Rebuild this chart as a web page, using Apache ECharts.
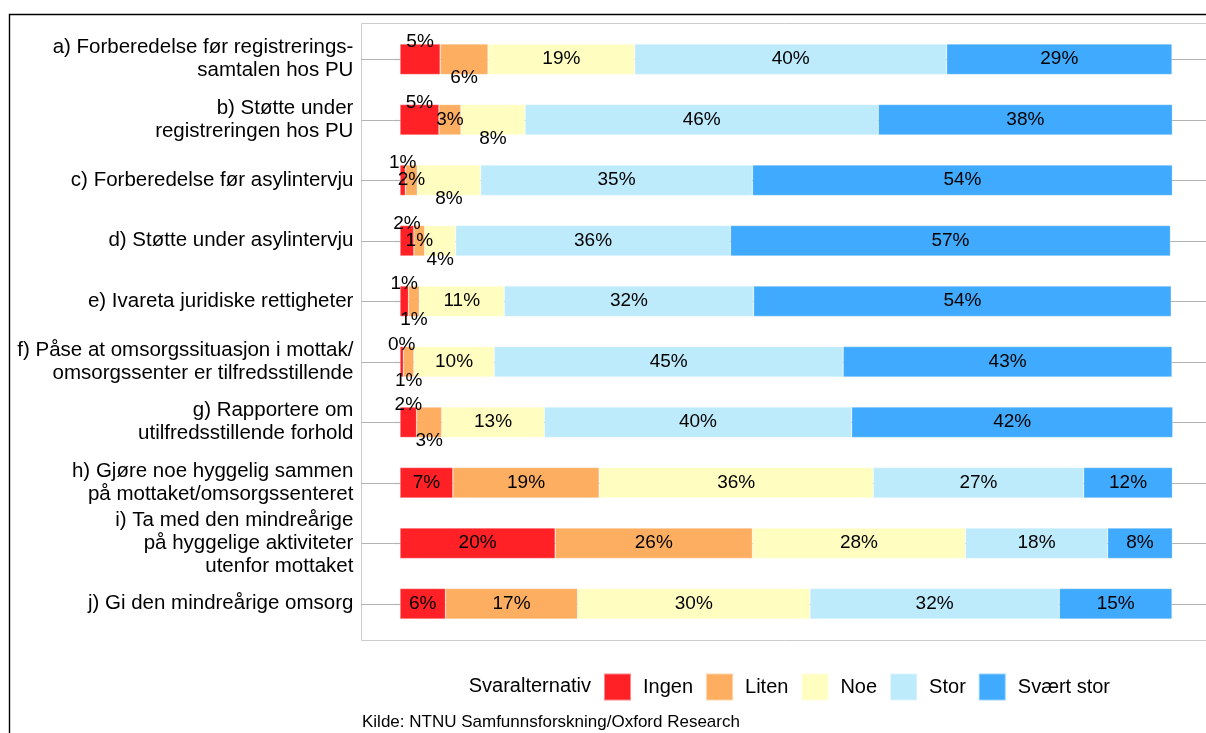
<!DOCTYPE html>
<html>
<head>
<meta charset="utf-8">
<script src="https://cdn.jsdelivr.net/npm/echarts@6/dist/echarts.min.js"></script>
<style>
  html, body { margin: 0; padding: 0; background: #fff; }
  #chart { width: 1206px; height: 733px; }
</style>
</head>
<body>
<div id="chart"></div>
<script>
// ---- data ----
const categories = [
  'a) Forberedelse før registrerings-\nsamtalen hos PU',
  'b) Støtte under\nregistreringen hos PU',
  'c) Forberedelse før asylintervju',
  'd) Støtte under asylintervju',
  'e) Ivareta juridiske rettigheter',
  'f) Påse at omsorgssituasjon i mottak/\nomsorgssenter er tilfredsstillende',
  'g) Rapportere om\nutilfredsstillende forhold',
  'h) Gjøre noe hyggelig sammen\npå mottaket/omsorgssenteret',
  'i) Ta med den mindreårige\npå hyggelige aktiviteter\nutenfor mottaket',
  'j) Gi den mindreårige omsorg'
];
const seriesNames = ['Ingen', 'Liten', 'Noe', 'Stor', 'Svært stor'];
const ingen     = [5.2, 5.05, 0.7, 1.8, 1.1, 0.45, 2.15, 6.85, 20.1, 5.9];
const liten     = [6.2, 2.85, 1.55, 1.4, 1.4, 1.35, 3.25, 18.95, 25.55, 17.1];
const noe       = [19.0, 8.3, 8.2, 4.0, 11.0, 10.4, 13.3, 35.5, 27.6, 30.1];
const stor      = [40.4, 45.75, 35.2, 35.6, 32.3, 45.2, 39.8, 27.25, 18.4, 32.3];
const svaertStor = [29.2, 38.1, 54.4, 57.0, 54.1, 42.6, 41.6, 11.5, 8.4, 14.6];
const legendTitle = 'Svaralternativ';
const sourceText = 'Kilde: NTNU Samfunnsforskning/Oxford Research';

// ---- layout / style ----
const colors = ['#FF2126', '#FDAE61', '#FFFDC0', '#BDEBFC', '#40ABFE'];
const FONT = "'Liberation Sans', Arial, sans-serif";
// small labels nudged above / below the bar: [categoryIndex][seriesIndex]
const labelNudge = {
  0: {0: 'up', 1: 'down'},
  1: {0: 'up', 2: 'down'},
  2: {0: 'up', 2: 'down'},
  3: {0: 'up', 2: 'down'},
  4: {0: 'up', 1: 'down'},
  5: {0: 'up', 1: 'down'},
  6: {0: 'up', 1: 'down'}
};
const nudgePx = {up: -17, down: 19};

const allValues = [ingen, liten, noe, stor, svaertStor];

const series = seriesNames.map((name, si) => ({
  name: name,
  type: 'bar',
  stack: 'total',
  barWidth: 30.5,
  clip: false,
  itemStyle: { color: colors[si], borderColor: 'rgba(255,255,255,0.45)', borderWidth: 0.6 },
  label: {
    show: true,
    position: 'inside',
    color: '#000',
    fontFamily: FONT,
    fontSize: 19,
    formatter: p => Math.round(p.value) + '%'
  },
  data: allValues[si].map((v, ci) => {
    const n = labelNudge[ci] && labelNudge[ci][si];
    if (n) return { value: v, label: { offset: [0, nudgePx[n]] } };
    return v;
  })
}));

const chart = echarts.init(document.getElementById('chart'), null, { renderer: 'canvas' });
chart.setOption({
  animation: false,
  backgroundColor: '#fff',
  textStyle: { fontFamily: FONT },
  grid: { left: 361.4, right: 0, top: 59.25, height: 544.5, containLabel: false },
  xAxis: {
    type: 'value', min: -5, max: 104.4,
    axisLabel: { show: false }, axisLine: { show: false },
    axisTick: { show: false }, splitLine: { show: false }
  },
  yAxis: {
    type: 'category',
    data: categories,
    inverse: true,
    boundaryGap: false,
    axisLine: { show: false },
    axisTick: { show: true, length: 6, lineStyle: { color: '#b3b3b3', width: 1.2 } },
    splitLine: { show: true, lineStyle: { color: '#b3b3b3', width: 1.2 } },
    axisLabel: {
      color: '#000', fontFamily: FONT, fontSize: 20.5, lineHeight: 23,
      margin: 8, align: 'right'
    }
  },
  legend: {
    data: seriesNames,
    left: 598, top: 667.5,
    icon: 'rect',
    itemWidth: 27, itemHeight: 27,
    itemGap: 12,
    textStyle: { color: '#000', fontFamily: FONT, fontSize: 20, padding: [0, 0, 0, 7] }
  },
  graphic: [
    { type: 'rect', silent: true, z: -1,
      shape: { x: 361.5, y: 23.5, width: 849, height: 617 },
      style: { fill: null, stroke: '#cccccc', lineWidth: 1 } },
    { type: 'rect', silent: true,
      shape: { x: 9.5, y: 14.5, width: 1300, height: 800 },
      style: { fill: null, stroke: '#000', lineWidth: 1.4 } },
    { type: 'text', silent: true, x: 591, y: 686,
      style: { text: legendTitle, fill: '#000', font: '20px ' + FONT, textAlign: 'right', textVerticalAlign: 'middle' } },
    { type: 'text', silent: true, x: 362, y: 722,
      style: { text: sourceText, fill: '#000', font: '17px ' + FONT, textAlign: 'left', textVerticalAlign: 'middle' } }
  ],
  series: series
});
</script>
</body>
</html>
